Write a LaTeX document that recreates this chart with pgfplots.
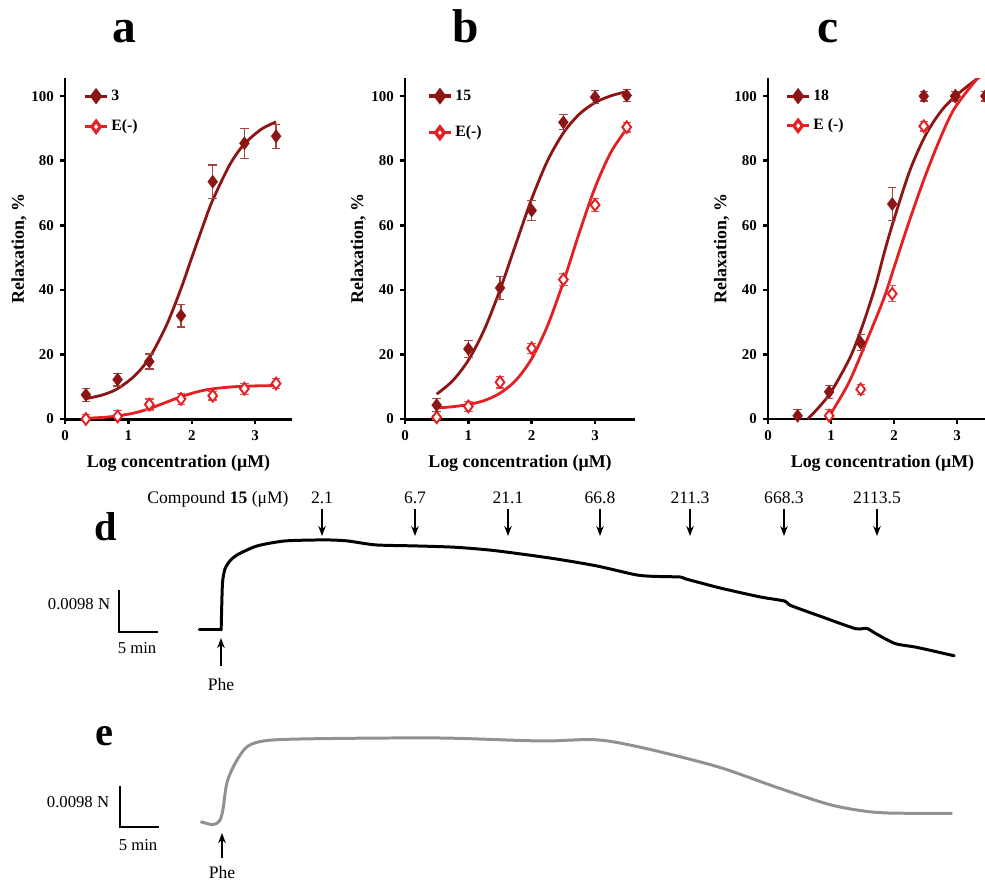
\documentclass[border=0pt]{standalone}
\usepackage{fontspec}
\setmainfont{Liberation Serif}
\usepackage{pgfplots}
\pgfplotsset{compat=1.18}
\usetikzlibrary{arrows.meta}

\definecolor{dkred}{RGB}{140,22,22}
\definecolor{brred}{RGB}{228,32,36}
\definecolor{trgray}{RGB}{145,145,145}

% 1 px of the reference = 0.02cm
\pgfplotsset{
  panel/.style={
    scale only axis, anchor=south west,
    height=6.82cm,
    xmin=0, ymin=0, ymax=105.6,
    axis lines*=left,
    axis line style={line width=1.7pt},
    tick align=outside, tick pos=left,
    major tick length=0.1cm,
    every tick/.style={line width=1.4pt, black},
    xtick={0,1,2,3}, ytick={0,20,...,100},
    ticklabel style={font=\fontsize{8.5}{10}\selectfont\bfseries},
    /pgf/number format/assume math mode=true,
    xlabel={Log concentration (μM)},
    ylabel={Relaxation, \%},
    label style={font=\fontsize{10.2}{12}\selectfont\bfseries},
    xlabel style={at={(axis description cs:0.5,-0.129)}, anchor=center},
    ylabel style={at={(axis description cs:-0.203,0.5)}, anchor=center},
    legend cell align=left,
    legend style={draw=none, fill=none, anchor=north west,
      font=\fontsize{9}{10}\selectfont\bfseries, inner sep=0pt,
      nodes={inner sep=1.5pt}},
    legend image code/.code={
      \draw[mark repeat=2, mark phase=2, #1]
        plot coordinates {(0cm,0cm) (0.22cm,0cm) (0.44cm,0cm)};},
  },
  fitline/.style={line width=1.6pt, smooth, no marks, forget plot},
  dk/.style={draw=none, mark=diamond*, mark size=3.3pt,
    mark options={fill=dkred, draw=dkred, line width=0.8pt},
    error bars/.cd, y dir=both, y explicit,
    error bar style={dkred!80!white, line width=0.7pt},
    error mark options={rotate=90, mark size=2.4pt, dkred!80!white, line width=0.7pt}},
  op/.style={draw=none, mark=diamond*, mark size=3.3pt,
    mark options={fill=white, draw=brred, line width=1.1pt},
    error bars/.cd, y dir=both, y explicit,
    error bar style={brred!80!white, line width=0.7pt},
    error mark options={rotate=90, mark size=2.4pt, brred!80!white, line width=0.7pt}},
}

\begin{document}
\begin{tikzpicture}[x=0.02cm, y=-0.02cm]
\useasboundingbox (0,0) rectangle (985,883);
\coordinate (pa) at (65,419);
\coordinate (pb) at (405,419);
\coordinate (pc) at (768,419);
\coordinate (pz) at (0,0);

% ---------------- panel a ----------------
\begin{axis}[panel, at={(pa)}, width=4.54cm, xmax=3.58,
  legend style={at={(axis description cs:0.08,0.975)}, row sep=0.24cm}]
\addlegendimage{dkred, line width=1.8pt, mark=diamond*, mark size=3.2pt, mark options={fill=dkred}}
\addlegendentry{3}
\addlegendimage{brred, line width=1.8pt, mark=diamond*, mark size=3.2pt, mark options={fill=white}}
\addlegendentry{E(-)}
\addplot[fitline, dkred] coordinates {
  (0.33,6.3)(0.6,7.5)(0.83,9.4)(1.1,13.4)(1.33,18.9)(1.6,29.0)(1.83,40.4)
  (2.0,50)(2.2,61.1)(2.33,67.8)(2.6,78.8)(2.83,85.2)(3.1,89.8)(3.33,92.0)};
\addplot[fitline, brred] coordinates {
  (0.33,0.23)(0.6,0.5)(0.83,0.95)(1.1,1.9)(1.33,3.2)(1.6,5.2)(1.83,6.9)
  (2.1,8.5)(2.33,9.35)(2.6,9.9)(2.83,10.15)(3.1,10.3)(3.33,10.35)};
\addplot[forget plot, op] coordinates {
  (0.33,0) +- (0,1.5) (0.83,0.8) +- (0,1.8) (1.33,4.5) +- (0,1.7)
  (1.83,6.2) +- (0,1.6) (2.33,7.2) +- (0,1.3) (2.83,9.4) +- (0,1.7)
  (3.33,11) +- (0,1.6)};
\addplot[forget plot, dk] coordinates {
  (0.33,7.5) +- (0,2.0) (0.83,12.2) +- (0,2.0) (1.33,17.8) +- (0,2.3)
  (1.83,32) +- (0,3.5) (2.33,73.5) +- (0,5.2) (2.83,85.4) +- (0,4.6)
  (3.33,87.6) +- (0,3.7)};
\end{axis}

% ---------------- panel b ----------------
\begin{axis}[panel, at={(pb)}, width=4.6cm, xmax=3.63,
  legend style={at={(axis description cs:0.095,0.975)}, row sep=0.36cm}]
\addlegendimage{dkred, line width=2pt, mark=diamond*, mark size=3.2pt, mark options={fill=dkred}}
\addlegendentry{15}
\addlegendimage{brred, line width=2pt, mark=diamond*, mark size=3.2pt, mark options={fill=white}}
\addlegendentry{E(-)}
\addplot[fitline, dkred] coordinates {
  (0.5,7.7)(0.75,11.8)(1.0,18.2)(1.25,27.6)(1.5,40.0)(1.75,54.2)(2.0,68.2)
  (2.25,80.0)(2.5,88.6)(2.75,94.4)(3.0,98.0)(3.25,100.1)(3.5,101.4)};
\addplot[fitline, brred] coordinates {
  (0.5,3.4)(0.75,3.8)(1.0,4.5)(1.25,5.7)(1.5,8.0)(1.75,12.0)(2.0,18.7)
  (2.25,28.9)(2.5,42.4)(2.75,57.6)(3.0,71.7)(3.25,82.6)(3.5,89.9)};
\addplot[forget plot, op] coordinates {
  (0.5,0.5) +- (0,0.5) (1,3.9) +- (0,1.5) (1.5,11.4) +- (0,1.8)
  (2,21.9) +- (0,1.5) (2.5,43.2) +- (0,1.8) (3,66.3) +- (0,2.0)
  (3.5,90.4) +- (0,1.5)};
\addplot[forget plot, dk] coordinates {
  (0.5,4.3) +- (0,2.0) (1,21.7) +- (0,2.7) (1.5,40.6) +- (0,3.5)
  (2,64.6) +- (0,3.0) (2.5,91.9) +- (0,2.3) (3,99.7) +- (0,2.0)
  (3.5,100.2) +- (0,1.8)};
\end{axis}

% ---------------- panel c ----------------
\begin{axis}[panel, at={(pc)}, width=4.58cm, xmax=3.63,
  legend style={at={(axis description cs:0.075,0.975)}, row sep=0.22cm}]
\addlegendimage{dkred, line width=1.8pt, mark=diamond*, mark size=3.2pt, mark options={fill=dkred}}
\addlegendentry{18}
\addlegendimage{brred, line width=1.8pt, mark=diamond*, mark size=3.2pt, mark options={fill=white}}
\addlegendentry{E (-)}
\addplot[fitline, dkred] coordinates {
  (0.63,0)(0.8,3.5)(1.0,8.4)(1.3,19)(1.5,29)(1.7,41)(1.85,52)(2.0,62)
  (2.25,77)(2.5,88)(2.75,95.5)(3.0,100.5)(3.31,105.3)(3.4,106.5)};
\addplot[fitline, brred] coordinates {
  (0.94,0)(1.1,5)(1.3,12)(1.56,24)(1.83,37)(2.0,47)(2.2,59)(2.45,73)
  (2.7,85.5)(2.95,96)(3.31,105.3)(3.4,107)};
\addplot[forget plot, op] coordinates {
  (0.97,1.0) +- (0,2.0) (1.47,9.2) +- (0,1.5) (1.97,38.8) +- (0,2.5)
  (2.47,90.7) +- (0,1.5) (2.97,100) +- (0,1.5) (3.45,100) +- (0,1.5)};
\addplot[forget plot, dk] coordinates {
  (0.47,1.0) +- (0,2.0) (0.97,8.4) +- (0,2.0) (1.47,23.6) +- (0,2.5)
  (1.97,66.6) +- (0,5.0) (2.47,100) +- (0,1.5) (2.97,100) +- (0,1.5)
  (3.45,100) +- (0,1.5)};
\end{axis}

% ---------------- traces d and e (pixel canvas) ----------------
\begin{axis}[at={(pz)}, anchor=north west, scale only axis,
  width=19.7cm, height=17.66cm, xmin=0, xmax=985, ymin=0, ymax=883,
  y dir=reverse, hide axis, clip=false]
% baseline before phenylephrine
\addplot[black, line width=1.7pt, line cap=round] coordinates {
  (199.5,630)(221.2,630)};
\addplot[black, line width=1.7pt, smooth, tension=0.4, line cap=round] coordinates {
  (221.2,630)(221.8,605)(222.6,582)(225.0,569)(230.0,561)(237.3,554.9)(257.1,546.0)
  (285.3,541.0)(324.8,540)(347.4,541)(375.6,545)(415.2,546)(454.7,547.3)
  (494.2,550.6)(550.7,558.2)(595.8,565.8)(635.4,574.8)(652.3,576.4)
  (680.5,577.1)(686.2,579.1)(720.0,588.0)(759.6,596.9)(785.0,601.2)
  (790.6,605.5)(821.7,616.8)(855.5,628.7)(866.8,628.4)(875.3,633.3)
  (895.1,643.6)(917.7,647.6)(954.4,655.9)};
\addplot[trgray, line width=1.7pt, smooth, tension=0.5] coordinates {
  (200.5,821.8)(212.9,824.8)(219.7,820.8)(223.1,809.2)(227.0,782.8)
  (235.5,762.9)(247.9,746.3)(269.4,740.4)(325.8,738.7)(438.8,738.1)
  (523.5,740.7)(551.7,741.0)(591.2,739.7)(619.4,743.0)(664.6,753.0)
  (721.1,767.9)(777.5,787.7)(828.3,804.3)(862.2,810.9)(890.4,813.2)
  (952.5,813.5)};
\end{axis}

% ---------------- panel letters ----------------
\foreach \px/\lab in {124/a, 466/b, 828/c}
  \node[font=\fontsize{27}{28}\selectfont\bfseries, anchor=base] at (\px,42) {\lab};
\node[font=\fontsize{23}{24}\selectfont\bfseries, anchor=base] at (106,540) {d};
\node[font=\fontsize{23}{24}\selectfont\bfseries, anchor=base] at (104,745) {e};

% ---------------- annotations d ----------------
\node[font=\fontsize{10}{11}\selectfont, anchor=base] at (218,503) {Compound \textbf{15} (μM)};
\foreach \px/\lab in {322/2.1, 415/6.7, 508/21.1, 600/66.8, 690/211.3, 784/668.3, 877/2113.5} {
  \node[font=\fontsize{10}{11}\selectfont, anchor=base] at (\px,503) {\lab};
  \draw[line width=1.1pt, -{Stealth[length=0.2cm, width=0.15cm]}] (\px,509) -- (\px,536);
}
\draw[line width=1.4pt] (119,590) -- (119,632) -- (158,632);
\node[font=\fontsize{9.5}{10}\selectfont] at (79,604) {0.0098 N};
\node[font=\fontsize{9.5}{10}\selectfont] at (137,648) {5 min};
\draw[line width=1.1pt, -{Stealth[length=0.2cm, width=0.15cm]}] (221,666) -- (221,638);
\node[font=\fontsize{10}{11}\selectfont] at (221,684) {Phe};

% ---------------- annotations e ----------------
\draw[line width=1.4pt] (120,786) -- (120,827) -- (159,827);
\node[font=\fontsize{9.5}{10}\selectfont] at (78,802) {0.0098 N};
\node[font=\fontsize{9.5}{10}\selectfont] at (138,845) {5 min};
\draw[line width=1.1pt, -{Stealth[length=0.2cm, width=0.15cm]}] (222,858) -- (222,833);
\node[font=\fontsize{10}{11}\selectfont] at (222,872) {Phe};
\end{tikzpicture}
\end{document}
